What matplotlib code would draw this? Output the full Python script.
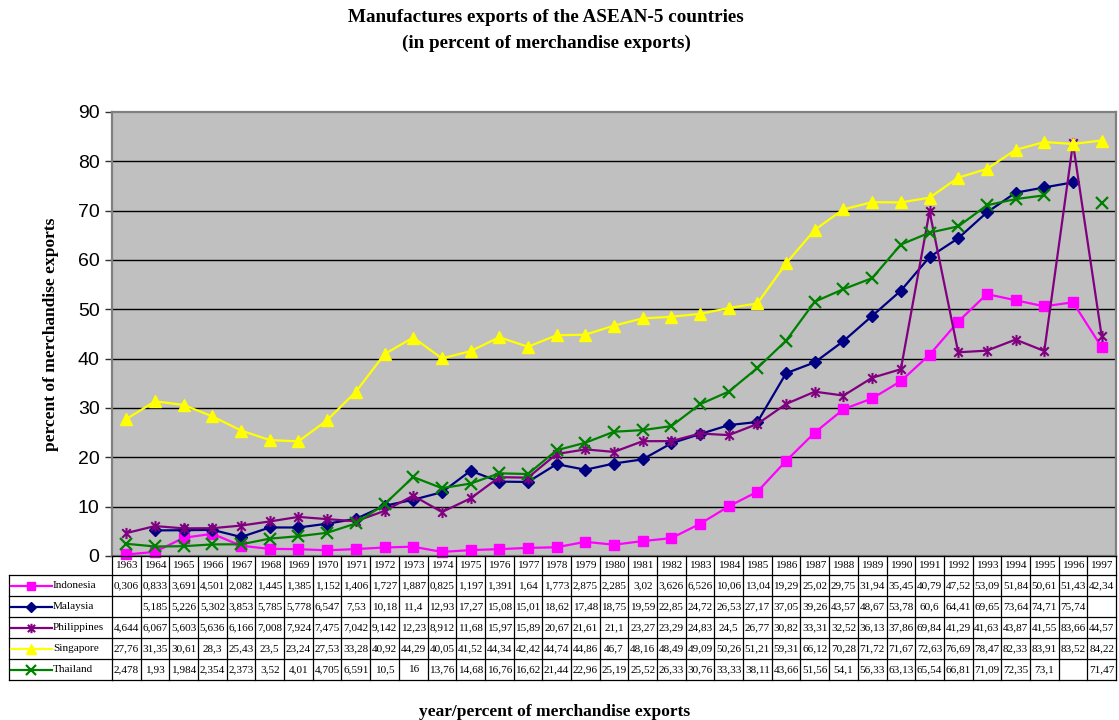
import numpy as np
import matplotlib
matplotlib.use("Agg")
import matplotlib.pyplot as plt
from matplotlib.path import Path
from matplotlib.lines import Line2D
from matplotlib import transforms

nan = np.nan

years = list(range(1963, 1998))

indonesia = [0.306, 0.833, 3.691, 4.501, 2.082, 1.445, 1.385, 1.152, 1.406, 1.727,
             1.887, 0.825, 1.197, 1.391, 1.64, 1.773, 2.875, 2.285, 3.02, 3.626,
             6.526, 10.06, 13.04, 19.29, 25.02, 29.75, 31.94, 35.45, 40.79, 47.52,
             53.09, 51.84, 50.61, 51.43, 42.34]
malaysia = [nan, 5.185, 5.226, 5.302, 3.853, 5.785, 5.778, 6.547, 7.53, 10.18,
            11.4, 12.93, 17.27, 15.08, 15.01, 18.62, 17.48, 18.75, 19.59, 22.85,
            24.72, 26.53, 27.17, 37.05, 39.26, 43.57, 48.67, 53.78, 60.6, 64.41,
            69.65, 73.64, 74.71, 75.74, nan]
philippines = [4.644, 6.067, 5.603, 5.636, 6.166, 7.008, 7.924, 7.475, 7.042, 9.142,
               12.23, 8.912, 11.68, 15.97, 15.89, 20.67, 21.61, 21.1, 23.27, 23.29,
               24.83, 24.5, 26.77, 30.82, 33.31, 32.52, 36.13, 37.86, 69.84, 41.29,
               41.63, 43.87, 41.55, 83.66, 44.57]
singapore = [27.76, 31.35, 30.61, 28.3, 25.43, 23.5, 23.24, 27.53, 33.28, 40.92,
             44.29, 40.05, 41.52, 44.34, 42.42, 44.74, 44.86, 46.7, 48.16, 48.49,
             49.09, 50.26, 51.21, 59.31, 66.12, 70.28, 71.72, 71.67, 72.63, 76.69,
             78.47, 82.33, 83.91, 83.52, 84.22]
thailand = [2.478, 1.93, 1.984, 2.354, 2.373, 3.52, 4.01, 4.705, 6.591, 10.5,
            16, 13.76, 14.68, 16.76, 16.62, 21.44, 22.96, 25.19, 25.52, 26.33,
            30.76, 33.33, 38.11, 43.66, 51.56, 54.1, 56.33, 63.13, 65.54, 66.81,
            71.09, 72.35, 73.1, nan, 71.47]

country_names = ["Indonesia", "Malaysia", "Philippines", "Singapore", "Thailand"]
country_values = [indonesia, malaysia, philippines, singapore, thailand]

title_lines = ["Manufactures exports of the ASEAN-5 countries",
               "(in percent of merchandise exports)"]
y_label = "percent of merchandise exports"
x_label = "year/percent of merchandise exports"

# Excel-style asterisk marker: an "x" crossed by a vertical bar
star_path = Path([(-1, -1), (1, 1), (-1, 1), (1, -1), (0, -1.3), (0, 1.3)],
                 [Path.MOVETO, Path.LINETO, Path.MOVETO, Path.LINETO,
                  Path.MOVETO, Path.LINETO])

styles = [
    dict(color="#FF00FF", marker="s", ms=6.5, mew=1.0),
    dict(color="#000080", marker="D", ms=6.5, mew=1.0),
    dict(color="#800080", marker=star_path, ms=8, mew=1.5),
    dict(color="#FFFF00", marker="^", ms=9, mew=1.0),
    dict(color="#008000", marker="x", ms=8, mew=1.6),
]

W, H = 1119, 720
fig = plt.figure(figsize=(W / 100, H / 100), dpi=100)

serif = "Liberation Serif"
sans = "Liberation Sans"


def fx(px):
    return px / W


def fy(py):
    return 1 - py / H


left_px, right_px, top_px, bottom_px = 112, 1116, 112, 556
ax = fig.add_axes([fx(left_px), fy(bottom_px), fx(right_px - left_px),
                   (bottom_px - top_px) / H])
ax.set_facecolor("#C0C0C0")
ax.set_xlim(-0.5, len(years) - 0.5)
ax.set_ylim(0, 90)
ax.set_yticks(range(0, 91, 10))
ax.set_xticks([])
for v in range(10, 90, 10):
    ax.axhline(v, color="black", lw=1.0, zorder=1)
for s in ax.spines.values():
    s.set_color("#808080")
    s.set_linewidth(1.6)
ax.tick_params(axis="y", direction="out", length=5, width=1.0, color="#303030",
               labelsize=14, pad=4)
for t in ax.get_yticklabels():
    t.set_fontfamily(sans)

x = np.arange(len(years))
for vals, st in zip(country_values, styles):
    ax.plot(x, vals, color=st["color"], lw=1.6, marker=st["marker"],
            ms=st["ms"], mfc=st["color"], mec=st["color"], mew=st["mew"],
            zorder=3, clip_on=False)

# Titles and axis labels
fig.text(fx(546), fy(18), title_lines[0], ha="center", va="center",
         fontfamily=serif, fontweight="bold", fontsize=13.8)
fig.text(fx(546), fy(43), title_lines[1], ha="center", va="center",
         fontfamily=serif, fontweight="bold", fontsize=13.8)
fig.text(fx(51), fy(334), y_label, ha="center", va="center", rotation=90,
         fontfamily=serif, fontweight="bold", fontsize=12.5)
fig.text(fx(555), fy(712), x_label, ha="center", va="center",
         fontfamily=serif, fontweight="bold", fontsize=12.5)

# Data table below the axes
blend = transforms.blended_transform_factory(ax.transData, fig.transFigure)
row_edges = [556, 575, 596, 617, 638, 659, 680]
table_fs = 8.1
line_kw = dict(color="black", lw=0.9, clip_on=False)

# vertical column lines
for i in range(len(years) + 1):
    xd = i - 0.5
    fig.add_artist(Line2D([xd, xd], [fy(row_edges[0]), fy(row_edges[-1])],
                          transform=blend, **line_kw))
# horizontal lines across data columns
for r in row_edges:
    fig.add_artist(Line2D([-0.5, len(years) - 0.5], [fy(r), fy(r)],
                          transform=blend, **line_kw))
# legend column borders
leg_left = 9
for r in row_edges[1:]:
    fig.add_artist(Line2D([fx(leg_left), fx(left_px)], [fy(r), fy(r)],
                          transform=fig.transFigure, **line_kw))
fig.add_artist(Line2D([fx(leg_left), fx(leg_left)], [fy(row_edges[1]), fy(row_edges[-1])],
                      transform=fig.transFigure, **line_kw))

# year header
yc = fy((row_edges[0] + row_edges[1]) / 2)
for i, yr in enumerate(years):
    fig.text(i, yc, str(yr), transform=blend, ha="center", va="center",
             fontfamily=serif, fontsize=table_fs)


def fmt(v):
    if np.isnan(v):
        return ""
    return "{:.4g}".format(v).replace(".", ",")


for k, (name, vals, st) in enumerate(zip(country_names, country_values, styles)):
    top, bot = row_edges[k + 1], row_edges[k + 2]
    yc = fy((top + bot) / 2)
    # legend key
    fig.add_artist(Line2D([fx(11), fx(52)], [yc, yc], transform=fig.transFigure,
                          color=st["color"], lw=1.6))
    fig.add_artist(Line2D([fx(31)], [yc], transform=fig.transFigure,
                          color=st["color"], lw=0, marker=st["marker"],
                          ms=st["ms"] * 0.85, mfc=st["color"], mec=st["color"],
                          mew=st["mew"]))
    fig.text(fx(53), yc, name, ha="left", va="center",
             fontfamily=serif, fontsize=table_fs)
    for i, v in enumerate(vals):
        fig.text(i, yc, fmt(v), transform=blend, ha="center", va="center",
                 fontfamily=serif, fontsize=table_fs)

fig.savefig("out.png", dpi=100)
